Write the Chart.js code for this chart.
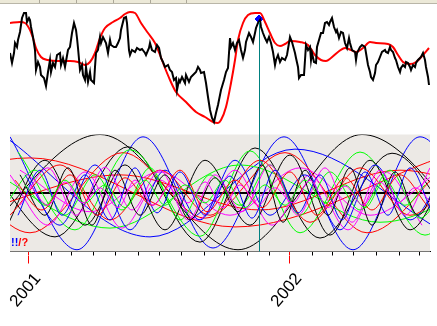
<!DOCTYPE html>
<html>
<head>
<meta charset="utf-8">
<script src="https://cdn.jsdelivr.net/npm/chart.js@4.4.1/dist/chart.umd.min.js"></script>
<style>
  body { margin: 0; background: #fff; }
  #wrap { position: relative; width: 437px; height: 326px; }
  #strip { position: absolute; left: 0; top: 0; width: 437px; height: 3px; background: #ece9d8; border-bottom: 1px solid #b9b6a8; }
  #strip span { position: absolute; top: 0; width: 1px; height: 3px; background: #aca899; }
  canvas { position: absolute; left: 0; top: 0; }
</style>
</head>
<body>
<div id="wrap">
  <canvas id="cycleChart" width="437" height="326"></canvas>
  <div id="strip"><span style="left:39px"></span><span style="left:76px"></span><span style="left:113px"></span><span style="left:150px"></span><span style="left:186px"></span></div>
</div>
<script>
// x = trading day index, day 0 = first weekday of 2001
const monthTicks = [0, 23, 43, 65, 87, 110, 131, 153, 176, 196, 219, 241, 261, 284, 304, 325, 348, 371, 391];
const yearTicks = [0, 261];
const yearLabels = ['2001', '2002'];

// price (top panel)
const price = [
  [-18, 75], [-16, 65], [-14, 75], [-13, 85], [-11, 81], [-10, 88], [-8, 96], [-7, 103], [-6, 110], [-4, 115],
  [-2, 115], [-1, 106], [1, 110], [2, 108], [3, 101], [5, 91], [7, 78], [8, 58], [10, 66], [12, 61],
  [13, 53], [16, 50], [18, 42], [20, 56], [22, 68], [23, 56], [25, 65], [27, 61], [29, 73], [32, 75],
  [33, 63], [35, 70], [37, 61], [40, 78], [42, 81], [44, 95], [46, 105], [48, 98], [49, 90], [50, 80],
  [52, 58], [54, 63], [55, 53], [57, 48], [58, 61], [60, 46], [62, 56], [63, 48], [66, 45], [67, 61],
  [68, 75], [70, 78], [72, 91], [73, 85], [75, 91], [78, 85], [80, 75], [82, 88], [83, 83], [86, 81],
  [88, 81], [90, 85], [92, 90], [93, 98], [96, 110], [98, 111], [99, 105], [101, 78], [102, 73], [104, 78],
  [107, 76], [109, 80], [112, 78], [114, 79], [117, 75], [118, 73], [121, 80], [122, 85], [124, 78], [127, 76],
  [129, 83], [131, 80], [133, 70], [135, 66], [137, 61], [140, 63], [142, 58], [144, 56], [146, 48], [148, 50],
  [149, 38], [151, 48], [152, 46], [154, 51], [157, 45], [158, 53], [161, 46], [163, 51], [165, 53], [168, 56],
  [170, 61], [172, 58], [173, 55], [176, 56], [178, 45], [180, 31], [182, 18], [184, 10], [186, 6], [188, 15],
  [190, 23], [193, 38], [196, 48], [198, 56], [200, 60], [202, 90], [203, 81], [205, 85], [207, 78], [209, 85],
  [211, 88], [213, 78], [215, 70], [217, 78], [218, 86], [221, 95], [223, 91], [225, 86], [227, 95], [228, 100],
  [230, 105], [232, 108], [233, 101], [235, 95], [237, 90], [239, 86], [241, 91], [243, 85], [245, 76], [247, 63],
  [248, 68], [250, 73], [252, 66], [254, 70], [257, 68], [259, 73], [262, 91], [264, 86], [267, 75], [268, 70],
  [270, 61], [271, 50], [273, 53], [276, 53], [277, 68], [278, 83], [280, 78], [282, 81], [283, 68], [284, 75],
  [286, 66], [288, 65], [289, 81], [291, 88], [293, 95], [295, 95], [297, 105], [299, 106], [301, 103], [302, 106],
  [304, 110], [306, 101], [308, 96], [309, 98], [311, 90], [313, 96], [315, 95], [317, 85], [319, 80], [321, 90],
  [322, 85], [324, 78], [327, 76], [328, 68], [329, 75], [332, 81], [334, 83], [337, 81], [338, 75], [340, 63],
  [342, 56], [343, 51], [345, 48], [347, 55], [348, 63], [350, 66], [352, 71], [354, 76], [357, 78], [358, 76],
  [360, 75], [362, 81], [363, 78], [365, 76], [367, 70], [368, 68], [370, 61], [372, 56], [373, 60], [375, 63],
  [377, 61], [378, 66], [380, 65], [382, 61], [383, 58], [385, 63], [387, 61], [388, 65], [390, 68], [392, 70],
  [393, 71], [395, 75], [397, 68], [398, 61], [400, 51], [401, 43]
];

// composite of the cycles (top panel, red)
const composite = [
  [-18, 105], [-8, 106], [-3, 105], [2, 98], [5, 90], [8, 80], [13, 71], [20, 68], [32, 67], [42, 67],
  [50, 66], [57, 63], [62, 66], [67, 75], [72, 90], [77, 100], [85, 106], [92, 110], [97, 114], [102, 116],
  [107, 115], [113, 105], [120, 95], [127, 85], [132, 73], [137, 60], [142, 48], [148, 36], [158, 26], [168, 16],
  [177, 11], [185, 6], [190, 5], [193, 8], [198, 21], [203, 45], [207, 68], [210, 88], [215, 105], [220, 113],
  [227, 115], [232, 115], [237, 106], [242, 95], [247, 85], [252, 82], [257, 84], [262, 87], [272, 86], [280, 83],
  [287, 73], [293, 68], [298, 67], [303, 70], [310, 76], [317, 80], [323, 78], [328, 76], [335, 80], [342, 86],
  [348, 85], [360, 84], [365, 81], [370, 73], [375, 66], [382, 64], [388, 66], [395, 73], [401, 80]
];

const cursorDay = 231;
const cursorValue = 109;

// single cycles (bottom panel), turning points as [day, amplitude]
const blue1 = [[-18, 0.96], [49, -0.97], [115, 0.96], [185, -0.94], [256, 0.96], [325, -0.97], [392, 0.96], [459, -0.97]];
const blue2 = [[-23, 0.96], [122, -0.75], [267, 0.75], [412, -0.63]];
const blue3 = [[-10, -0.38], [12, 0.39], [34, -0.38], [57, 0.31], [82, -0.46], [107, 0.43], [129, -0.34], [152, 0.36], [177, -0.38], [202, 0.29],
  [224, -0.43], [247, 0.39], [270, -0.34], [292, 0.31], [314, -0.46], [337, 0.36], [360, -0.38], [382, 0.43], [404, -0.34]];
const blue4 = [[-3, 0.31], [32, -0.55], [67, 0.48], [102, -0.63], [137, 0.39], [172, -0.46], [207, 0.56], [242, -0.38], [277, 0.31], [312, -0.63],
  [347, 0.48], [382, -0.46], [417, 0.39]];

const black1 = [[-59, -0.97], [72, 1.0], [210, -0.97], [334, 1.0], [462, -0.97]];
const black2 = [[-45, 0.6], [27, -0.75], [100, 0.79], [172, -0.84], [227, 0.77], [292, -0.77], [364, 0.68], [430, -0.6]];
const black3 = [[-8, 0.31], [17, -0.38], [40, 0.43], [64, -0.55], [87, 0.39], [112, -0.38], [137, 0.31], [162, -0.46], [187, 0.26], [210, -0.32],
  [234, 0.48], [255, -0.50], [277, 0.39], [300, -0.38], [322, 0.43], [344, -0.55], [367, 0.36], [390, -0.38], [412, 0.3]];
const black4 = [[-23, -0.63], [17, 0.56], [57, -0.55], [97, 0.48], [137, -0.63], [177, 0.56], [222, -0.55], [262, 0.65], [302, -0.72], [342, 0.56],
  [382, -0.63], [422, 0.5]];

const red1 = [[-203, -0.58], [2, 0.60], [207, -0.58], [412, 0.60]];
const red2 = [[-78, 0.57], [2, -0.68], [95, 0.69], [177, -0.43], [257, 0.69], [339, -0.68], [422, 0.57]];
const red3 = [[-13, 0.22], [14, -0.29], [42, 0.31], [69, -0.38], [97, 0.26], [124, -0.21], [152, 0.39], [179, -0.32], [207, 0.22], [234, -0.25],
  [262, 0.36], [289, -0.38], [317, 0.26], [344, -0.29], [372, 0.31], [399, -0.21]];
const red4 = [[-18, -0.38], [32, 0.48], [82, -0.46], [132, 0.39], [182, -0.38], [232, 0.56], [282, -0.50], [332, 0.43], [382, -0.38], [432, 0.4]];
const red5 = [[-48, -0.3], [92, 0.31], [232, -0.29], [372, 0.39], [500, -0.3]];

const green1 = [[-10, 0.70], [47, -0.63], [102, 0.74], [172, -0.74], [222, 0.72], [272, -0.68], [332, 0.70], [397, -0.72], [450, 0.6]];
const green2 = [[-23, -0.21], [7, 0.39], [37, -0.38], [67, 0.31], [94, -0.29], [122, 0.43], [152, -0.46], [182, 0.31], [212, -0.21], [242, 0.48],
  [272, -0.38], [302, 0.36], [332, -0.29], [362, 0.39], [392, -0.43], [422, 0.3]];
const green3 = [[-48, 0.48], [82, -0.60], [212, 0.48], [352, -0.50], [480, 0.4]];
const green4 = [[-3, 0.14], [17, -0.21], [37, 0.22], [57, -0.17], [77, 0.14], [97, -0.25], [117, 0.22], [137, -0.21], [157, 0.14], [177, -0.17],
  [197, 0.22], [217, -0.25], [237, 0.14], [257, -0.21], [277, 0.22], [297, -0.17], [317, 0.14], [337, -0.25], [357, 0.22], [377, -0.21], [397, 0.14]];

const magenta1 = [[-8, -0.21], [20, 0.43], [48, -0.38], [77, 0.44], [104, -0.29], [132, 0.39], [160, -0.46], [187, 0.31], [214, -0.32], [242, 0.48],
  [270, -0.38], [297, 0.43], [324, -0.50], [352, 0.39], [377, -0.38], [402, 0.43]];
const magenta2 = [[-18, 0.31], [20, -0.55], [57, 0.36], [94, -0.60], [132, 0.22], [170, -0.46], [207, 0.39], [244, -0.55], [282, 0.31], [320, -0.63],
  [357, 0.36], [394, -0.55]];
const magenta3 = [[-8, 0.39], [62, -0.32], [132, 0.36], [202, -0.38], [272, 0.43], [342, -0.38], [412, 0.39]];
const magenta4 = [[2, 0.14], [20, -0.21], [37, 0.19], [55, -0.17], [72, 0.09], [90, -0.25], [107, 0.22], [125, -0.21], [142, 0.12], [160, -0.17],
  [177, 0.19], [195, -0.25], [212, 0.14], [230, -0.21], [247, 0.09], [265, -0.17], [282, 0.22], [300, -0.25], [317, 0.12], [335, -0.21],
  [352, 0.19], [370, -0.17], [387, 0.09], [405, -0.21]];

const cycles = [
  { data: magenta4, color: '#ff00ff' }, { data: green4, color: '#00ff00' }, { data: red3, color: '#ff0000' },
  { data: blue3, color: '#0000ff' }, { data: black3, color: '#000000' }, { data: magenta1, color: '#ff00ff' },
  { data: green2, color: '#00ff00' }, { data: red4, color: '#ff0000' }, { data: blue4, color: '#0000ff' },
  { data: black4, color: '#000000' }, { data: magenta2, color: '#ff00ff' }, { data: magenta3, color: '#ff00ff' },
  { data: red5, color: '#ff0000' }, { data: green3, color: '#00ff00' }, { data: green1, color: '#00ff00' },
  { data: red2, color: '#ff0000' }, { data: red1, color: '#ff0000' }, { data: black2, color: '#000000' },
  { data: blue2, color: '#0000ff' }, { data: black1, color: '#000000' }, { data: blue1, color: '#0000ff' }
];

const panelPlugin = {
  id: 'panels',
  beforeDatasetsDraw(chart) {
    const { ctx, chartArea, scales } = chart;
    const y2 = scales.y2;
    ctx.save();
    ctx.fillStyle = '#ece9e5';
    ctx.fillRect(chartArea.left, y2.top, chartArea.right - chartArea.left, y2.bottom - y2.top);
    const zy = Math.round(y2.getPixelForValue(0));
    ctx.strokeStyle = '#000';
    ctx.lineWidth = 2;
    ctx.beginPath();
    ctx.moveTo(chartArea.left, zy);
    ctx.lineTo(chartArea.right, zy);
    ctx.stroke();
    ctx.restore();
  },
  afterDatasetsDraw(chart) {
    const { ctx, chartArea, scales } = chart;
    const cx = Math.round(scales.x.getPixelForValue(cursorDay)) + 0.5;
    const cy = scales.y.getPixelForValue(cursorValue) + 3;
    ctx.save();
    ctx.strokeStyle = '#008080';
    ctx.lineWidth = 1;
    ctx.beginPath();
    ctx.moveTo(cx, cy);
    ctx.lineTo(cx, chartArea.bottom);
    ctx.stroke();
    ctx.font = 'bold 11px "Liberation Sans"';
    ctx.textBaseline = 'bottom';
    ctx.fillStyle = '#0000ff';
    ctx.fillText('!!', chartArea.left + 1, scales.y2.bottom - 3);
    ctx.fillStyle = '#ff0000';
    ctx.fillText('/?', chartArea.left + 1 + ctx.measureText('!!').width, scales.y2.bottom - 3);
    ctx.restore();
  }
};

const datasets = cycles.map(c => ({
  data: c.data,
  borderColor: c.color,
  borderWidth: 1,
  pointRadius: 0,
  fill: false,
  cubicInterpolationMode: 'monotone',
  yAxisID: 'y2'
}));

datasets.push({
  data: price,
  borderColor: '#000000',
  borderWidth: 2,
  pointRadius: 0,
  tension: 0,
  yAxisID: 'y'
});
datasets.push({
  data: composite,
  borderColor: '#ff0000',
  borderWidth: 2,
  pointRadius: 0,
  cubicInterpolationMode: 'monotone',
  yAxisID: 'y'
});
datasets.push({
  data: [[cursorDay, cursorValue]],
  showLine: false,
  pointStyle: 'rectRot',
  pointRadius: 4,
  backgroundColor: '#0000ff',
  borderColor: '#0000ff',
  borderWidth: 1,
  yAxisID: 'y'
});

const noWidth = scale => { scale.width = 0; };

const ctx = document.getElementById('cycleChart').getContext('2d');
new Chart(ctx, {
  type: 'line',
  data: { datasets: datasets },
  plugins: [panelPlugin],
  options: {
    responsive: false,
    animation: false,
    devicePixelRatio: 1,
    layout: { padding: { left: 10, right: 7, top: 5, bottom: 0 } },
    plugins: { legend: { display: false }, tooltip: { enabled: false } },
    scales: {
      x: {
        type: 'linear',
        position: 'bottom',
        min: -18,
        max: 402,
        afterBuildTicks: scale => { scale.ticks = monthTicks.map(v => ({ value: v })); },
        afterFit: scale => { scale.height = 4; scale.paddingLeft = 0; scale.paddingRight = 0; },
        grid: {
          drawOnChartArea: false,
          tickLength: 4,
          color: c => (c.tick && yearTicks.includes(c.tick.value)) ? '#ff0000' : '#000000'
        },
        border: { color: '#000000' },
        ticks: { display: false }
      },
      x2: {
        type: 'linear',
        position: 'bottom',
        min: -18,
        max: 402,
        afterBuildTicks: scale => { scale.ticks = yearTicks.map(v => ({ value: v })); },
        afterFit: scale => { scale.height = 70.5; scale.paddingLeft = 0; scale.paddingRight = 0; },
        grid: { drawOnChartArea: false, tickLength: 8, color: '#ff0000' },
        border: { display: false },
        ticks: {
          minRotation: 50,
          maxRotation: 50,
          padding: 0,
          color: '#000000',
          font: { family: 'Liberation Sans', size: 17, lineHeight: 0.75 },
          // leading empty line pushes the rotated label off the tick like the original
          callback: v => ['', yearLabels[yearTicks.indexOf(v)]]
        }
      },
      y2: {
        stack: 'panels',
        stackWeight: 117,
        min: -1,
        max: 1,
        afterFit: noWidth,
        ticks: { display: false },
        grid: { display: false },
        border: { display: false }
      },
      y: {
        stack: 'panels',
        stackWeight: 129.5,
        min: -6.5,
        max: 123,
        afterFit: noWidth,
        ticks: { display: false },
        grid: { display: false },
        border: { display: false }
      }
    }
  }
});
</script>
</body>
</html>
